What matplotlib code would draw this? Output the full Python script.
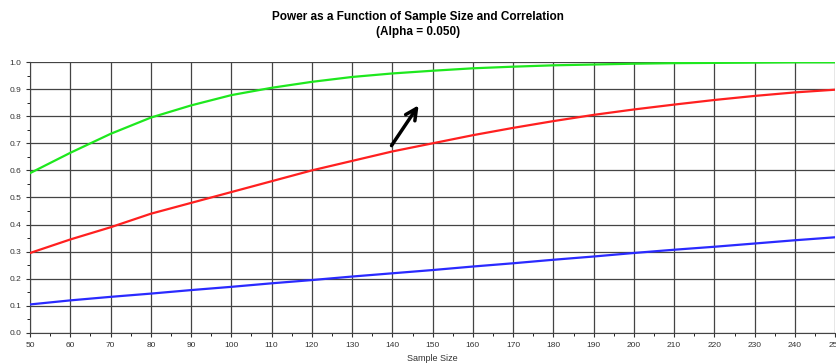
import matplotlib
matplotlib.use('Agg')
import matplotlib.pyplot as plt
import numpy as np

plt.rcParams.update({'font.family': ['Liberation Sans', 'DejaVu Sans']})

# sample sizes and power per correlation curve
sample_size = [50, 60, 70, 80, 90, 100, 110, 120, 130, 140, 150,
               160, 170, 180, 190, 200, 210, 220, 230, 240, 250]
power_green = [0.590, 0.665, 0.735, 0.795, 0.840, 0.878, 0.905, 0.927, 0.945, 0.958, 0.968,
               0.977, 0.983, 0.988, 0.991, 0.994, 0.996, 0.997, 0.998, 0.999, 0.999]
power_red = [0.295, 0.345, 0.390, 0.440, 0.480, 0.520, 0.560, 0.600, 0.635, 0.670, 0.700,
             0.730, 0.757, 0.782, 0.805, 0.825, 0.843, 0.860, 0.875, 0.888, 0.898]
power_blue = [0.105, 0.120, 0.133, 0.145, 0.158, 0.170, 0.183, 0.195, 0.208, 0.220, 0.232,
              0.245, 0.257, 0.270, 0.282, 0.295, 0.307, 0.318, 0.330, 0.342, 0.353]
x_ticks = list(range(50, 251, 10))
y_ticks = [0.0, 0.1, 0.2, 0.3, 0.4, 0.5, 0.6, 0.7, 0.8, 0.9, 1.0]
arrow_start = (139.4, 0.683)
arrow_end = (146.9, 0.849)

fig = plt.figure(figsize=(8.36, 3.63), dpi=100)
ax = fig.add_axes([0.036, 0.083, 0.963, 0.746])

ax.plot(sample_size, power_green, color='#1ee81e', lw=1.6, zorder=3)
ax.plot(sample_size, power_red, color='#ff2020', lw=1.6, zorder=3)
ax.plot(sample_size, power_blue, color='#2a2aff', lw=1.6, zorder=3)

ax.set_xlim(50, 250)
ax.set_ylim(0, 1.0)
ax.set_xticks(x_ticks)
ax.set_yticks(y_ticks)
ax.set_yticklabels([f"{v:.1f}" for v in y_ticks])
ax.set_xticks(np.arange(55, 250, 10), minor=True)
ax.set_yticks(np.arange(0.05, 1.0, 0.1), minor=True)
ax.tick_params(axis='both', labelsize=6, colors='#333333', length=3, width=0.8)
ax.tick_params(which='minor', length=2, width=0.6)
ax.grid(True, which='major', color='#444444', lw=0.9)

for side in ['top', 'right']:
    ax.spines[side].set_visible(False)
for side in ['left', 'bottom']:
    ax.spines[side].set_color('#444444')

ax.set_xlabel('Sample Size', fontsize=6.5, labelpad=4, color='#333333')

fig.text(0.5, 0.952, 'Power as a Function of Sample Size and Correlation',
         ha='center', va='center', fontsize=8.5, fontweight='bold')
fig.text(0.5, 0.912, '(Alpha = 0.050)', ha='center', va='center',
         fontsize=8.5, fontweight='bold')

ax.annotate('', xy=arrow_end, xytext=arrow_start,
            arrowprops=dict(arrowstyle='->', color='black', lw=2.5,
                            mutation_scale=20), zorder=4)

fig.savefig('out.png', dpi=100)
